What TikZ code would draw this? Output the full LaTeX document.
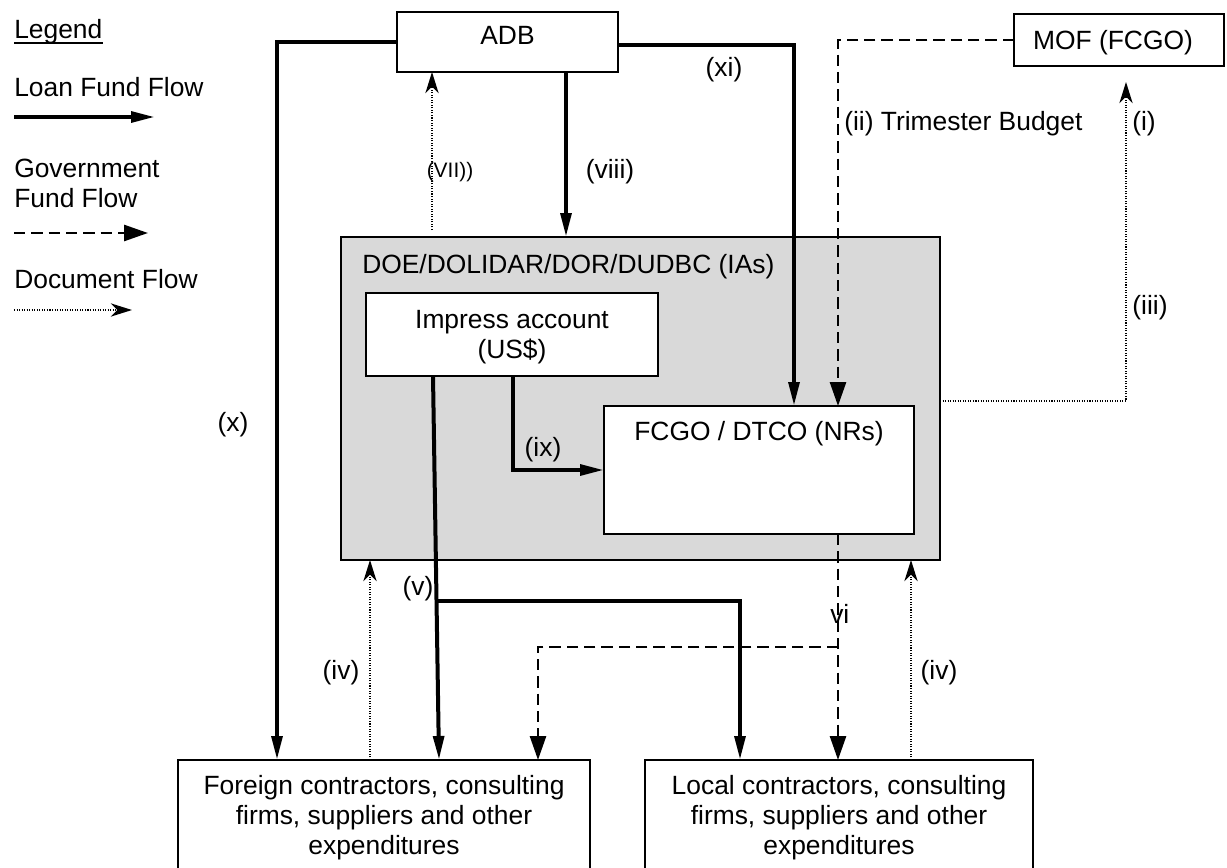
\documentclass[tikz,border=0pt]{standalone}
\usepackage{fontspec}
\setmainfont{Liberation Sans}
\usetikzlibrary{arrows.meta,calc}
\definecolor{doegray}{RGB}{217,217,217}
\begin{document}
\begin{tikzpicture}[x=0.75pt,y=-0.75pt,
  every node/.style={font=\fontsize{19.8pt}{22.5pt}\selectfont, inner sep=0pt},
  box/.style={draw, line width=1.1pt, fill=white, outer sep=0pt},
  loan/.style={line width=3pt, -{Triangle[length=18pt,width=8pt]}},
  gov/.style={line width=2pt, dash pattern=on 8.5pt off 4.5pt, -{Triangle[length=18pt,width=12pt]}},
  doc/.style={line width=1.1pt, dash pattern=on 0.8pt off 1.1pt, -{Stealth[length=16pt,width=10pt,inset=5pt]}},
  small/.style={font=\fontsize{15.7pt}{18pt}\selectfont},
]
\useasboundingbox (0,0) rectangle (1227,867);

% legend
\node[anchor=base west] (lgd) at (14,39) {Legend};
\draw[line width=1.1pt] ($(lgd.base west)+(0,4)$) coordinate (ulA) -- ($(lgd.base east)+(0,4)$) coordinate (ulB);
\node[anchor=base west] (lgLoan) at (14,96) {Loan Fund Flow};
\coordinate (la1) at (14,117); \coordinate (la2) at (155,117);
\draw[loan] (la1) -- (la2);
\node[anchor=base west] (lgGov1) at (14,177) {Government};
\node[anchor=base west] (lgGov2) at (14,207) {Fund Flow};
\coordinate (ga1) at (14,233); \coordinate (ga2) at (148,233);
\draw[gov] (ga1) -- (ga2);
\node[anchor=base west] (lgDoc) at (14,288) {Document Flow};
\coordinate (da1) at (14,310); \coordinate (da2) at (132,310);
\draw[doc] (da1) -- (da2);

% boxes
\node[box, minimum width=165.75pt, minimum height=45pt] (adb) at (507.5,42) {};
\node[anchor=base] (adbT) at (507.5,45) {ADB};
\node[box, minimum width=157.5pt, minimum height=39pt] (mof) at (1119,40) {};
\node[anchor=base] (mofT) at (1113,50) {MOF (FCGO)};
\node[box, fill=doegray, minimum width=449.25pt, minimum height=242.25pt] (doe) at (640.5,398.5) {};
\node[anchor=base west] (doeT) at (362,273) {DOE/DOLIDAR/DOR/DUDBC (IAs)};
\node[box, minimum width=219pt, minimum height=62.25pt] (imp) at (512,334.5) {};
\node[align=center] (impT) at (512,337) {Impress account\\(US\$)};
\node[box, minimum width=232.5pt, minimum height=96pt] (fcgo) at (759,470) {};
\node[anchor=base] (fcgoT) at (759,440) {FCGO / DTCO (NRs)};
\node[box, minimum width=309pt, minimum height=90pt] (foreign) at (384,820) {};
\node[align=center] (foreignT) at (384,818) {Foreign contractors, consulting\\firms, suppliers and other\\expenditures};
\node[box, minimum width=291pt, minimum height=90pt] (local) at (839,820) {};
\node[align=center] (localT) at (839,818) {Local contractors, consulting\\firms, suppliers and other\\expenditures};

% connectors
\coordinate (xEnd) at ($(foreign.north west)+(99,0)$);
\draw[loan] (adb.west) -| (xEnd);

\coordinate (xiStart) at ($(adb.east)+(0,3)$);
\coordinate (xiEnd) at ($(fcgo.north west)+(190,0)$);
\draw[loan] (xiStart) -| (xiEnd);

\coordinate (viiiStart) at ($(adb.south west)+(169,0)$);
\draw[loan] (viiiStart) -- (viiiStart |- doe.north);

\coordinate (viiStart) at ($(doe.north west)+(91,-7)$);
\draw[doc] (viiStart) -- (viiStart |- adb.south);

\coordinate (iiEnd) at ($(fcgo.north west)+(234,0)$);
\draw[gov] (mof.west) -| (iiEnd);

\coordinate (iiiStart) at ($(doe.east)+(0,2.5)$);
\coordinate (iEnd) at ($(mof.south west)+(112,16)$);
\draw[doc] (iiiStart) -| (iEnd);

\coordinate (ixStart) at ($(imp.south west)+(147,0)$);
\draw[loan] (ixStart) |- (fcgo.west);

\coordinate (vStart) at ($(imp.south west)+(67,0)$);
\coordinate (vEnd) at ($(foreign.north west)+(261,0)$);
\draw[loan] (vStart) -- (vEnd);
\coordinate (vBranch) at ($(vStart)!0.586!(vEnd)$);
\coordinate (vLocal) at ($(local.north west)+(95,0)$);
\draw[loan] (vBranch) -| (vLocal);

\coordinate (viStart) at ($(fcgo.south west)+(234,0)$);
\coordinate (viEnd) at ($(local.north west)+(193,0)$);
\draw[gov] (viStart) -- (viEnd);
\coordinate (viBranch) at ($(viStart)+(0,113)$);
\coordinate (viForeign) at ($(foreign.north west)+(360,0)$);
\draw[gov] (viBranch) -| (viForeign);

\coordinate (ivL) at ($(foreign.north west)+(192,0)$);
\draw[doc] (ivL) -- (ivL |- doe.south);
\coordinate (ivR) at ($(local.north west)+(266,0)$);
\draw[doc] (ivR) -- (ivR |- doe.south);

% labels
\node (lxi) at (724,70) {(xi)};
\node (lviii) at (610,172) {(viii)};
\node[small] (lvii) at (450,172) {(VII))};
\node[anchor=west] (lii) at (844,124) {(ii) Trimester Budget};
\node (li) at (1144,124) {(i)};
\node (liii) at (1150,308) {(iii)};
\node (lx) at (233,425) {(x)};
\node (lix) at (543,450) {(ix)};
\node (lv) at (418,589) {(v)};
\node[anchor=base west] (lvi) at (830,623) {vi};
\node (livL) at (341,673) {(iv)};
\node (livR) at (939,673) {(iv)};
\end{tikzpicture}
\end{document}
